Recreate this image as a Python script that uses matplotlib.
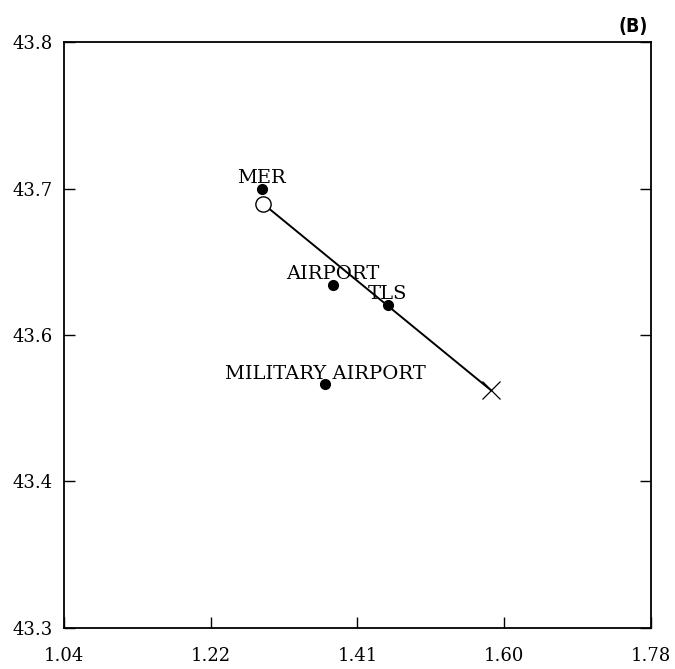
import numpy as np
import matplotlib
matplotlib.use("Agg")
import matplotlib.pyplot as plt

# axis ranges and tick labels as printed on the chart
x_range = (1.04, 1.78)
y_range = (43.3, 43.8)
x_ticklabels = ["1.04", "1.22", "1.41", "1.60", "1.78"]
y_ticklabels = ["43.3", "43.4", "43.6", "43.7", "43.8"]

# stations (filled dots)
station_names = ["MER", "AIRPORT", "TLS", "MILITARY AIRPORT"]
station_lon = [1.289, 1.379, 1.448, 1.369]
station_lat = [43.675, 43.593, 43.576, 43.508]

# track: start (open circle) -> end (cross)
track_lon = [1.291, 1.578]
track_lat = [43.662, 43.503]


def main():
    fig = plt.figure(figsize=(6.75, 6.69), dpi=100)
    ax = fig.add_axes([0.0948, 0.0613, 0.8696, 0.8759])

    ax.plot(track_lon, track_lat, color="black", lw=1.4, zorder=2)
    ax.plot(track_lon[0], track_lat[0], "o", ms=11, mfc="white", mec="black", mew=1.0, zorder=3)
    ax.plot(track_lon[1], track_lat[1], "x", ms=13, color="black", mew=0.9, zorder=3)

    ax.plot(station_lon, station_lat, "o", ms=7, color="black", zorder=4)

    # label baseline sits just above each dot
    for name, lon, lat in zip(station_names, station_lon, station_lat):
        ax.annotate(name, (lon, lat), xytext=(0, 4), textcoords="offset points",
                    ha="center", va="baseline", fontsize=14, family="DejaVu Serif")

    ax.set_xlim(*x_range)
    ax.set_ylim(*y_range)
    ax.set_xticks(np.linspace(x_range[0], x_range[1], len(x_ticklabels)))
    ax.set_xticklabels(x_ticklabels)
    ax.set_yticks(np.linspace(y_range[0], y_range[1], len(y_ticklabels)))
    ax.set_yticklabels(y_ticklabels)

    ax.tick_params(direction="in", length=8, width=1.0, left=True, right=True,
                   bottom=True, top=False, labelsize=13)
    ax.tick_params(axis="x", pad=14)
    ax.tick_params(axis="y", pad=8)
    for lab in ax.get_xticklabels() + ax.get_yticklabels():
        lab.set_family("DejaVu Serif")
    for sp in ax.spines.values():
        sp.set_linewidth(1.3)

    fig.text(0.938, 0.960, "(B)", ha="center", va="center", fontsize=14,
             fontweight="bold", family="DejaVu Sans", fontstretch="condensed")

    fig.savefig("out.png", dpi=100)


if __name__ == "__main__":
    main()
